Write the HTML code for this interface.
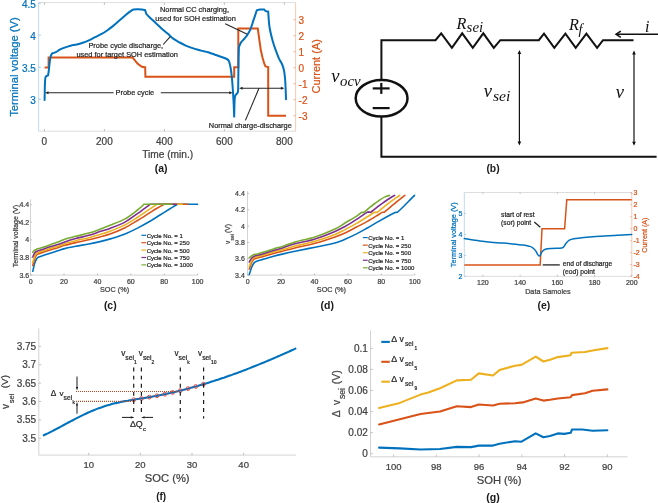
<!DOCTYPE html>
<html><head><meta charset="utf-8"><style>
html,body{margin:0;padding:0;background:#fff;}
body{width:658px;height:503px;overflow:hidden;font-family:"Liberation Sans",sans-serif;}
svg{display:block;will-change:transform;filter:blur(0.4px);}
</style></head><body>
<svg width="658" height="503" viewBox="0 0 658 503">
<rect width="658" height="503" fill="#fff"/>
<line x1="38.60" y1="2.60" x2="295.60" y2="2.60" stroke="#d4d4d4" stroke-width="0.8" />
<line x1="38.60" y1="131.20" x2="295.60" y2="131.20" stroke="#d4d4d4" stroke-width="0.8" />
<line x1="38.60" y1="2.60" x2="38.60" y2="131.20" stroke="#b0d0ec" stroke-width="0.8" />
<line x1="295.60" y1="2.60" x2="295.60" y2="131.20" stroke="#f3bba3" stroke-width="0.8" />
<line x1="44.40" y1="131.20" x2="44.40" y2="129.00" stroke="#a0a0a0" stroke-width="0.7" />
<line x1="44.40" y1="2.60" x2="44.40" y2="4.80" stroke="#a0a0a0" stroke-width="0.7" />
<text x="44.40" y="145.20" font-size="10" fill="#404040" text-anchor="middle" font-weight="normal" font-family="Liberation Sans" font-style="normal" stroke="#404040" stroke-width="0.22" >0</text>
<line x1="104.40" y1="131.20" x2="104.40" y2="129.00" stroke="#a0a0a0" stroke-width="0.7" />
<line x1="104.40" y1="2.60" x2="104.40" y2="4.80" stroke="#a0a0a0" stroke-width="0.7" />
<text x="104.40" y="145.20" font-size="10" fill="#404040" text-anchor="middle" font-weight="normal" font-family="Liberation Sans" font-style="normal" stroke="#404040" stroke-width="0.22" >200</text>
<line x1="164.40" y1="131.20" x2="164.40" y2="129.00" stroke="#a0a0a0" stroke-width="0.7" />
<line x1="164.40" y1="2.60" x2="164.40" y2="4.80" stroke="#a0a0a0" stroke-width="0.7" />
<text x="164.40" y="145.20" font-size="10" fill="#404040" text-anchor="middle" font-weight="normal" font-family="Liberation Sans" font-style="normal" stroke="#404040" stroke-width="0.22" >400</text>
<line x1="224.40" y1="131.20" x2="224.40" y2="129.00" stroke="#a0a0a0" stroke-width="0.7" />
<line x1="224.40" y1="2.60" x2="224.40" y2="4.80" stroke="#a0a0a0" stroke-width="0.7" />
<text x="224.40" y="145.20" font-size="10" fill="#404040" text-anchor="middle" font-weight="normal" font-family="Liberation Sans" font-style="normal" stroke="#404040" stroke-width="0.22" >600</text>
<line x1="284.40" y1="131.20" x2="284.40" y2="129.00" stroke="#a0a0a0" stroke-width="0.7" />
<line x1="284.40" y1="2.60" x2="284.40" y2="4.80" stroke="#a0a0a0" stroke-width="0.7" />
<text x="284.40" y="145.20" font-size="10" fill="#404040" text-anchor="middle" font-weight="normal" font-family="Liberation Sans" font-style="normal" stroke="#404040" stroke-width="0.22" >800</text>
<line x1="38.60" y1="3.20" x2="40.80" y2="3.20" stroke="#7fb2dc" stroke-width="0.7" />
<text x="35.80" y="7.80" font-size="10" fill="#0072BD" text-anchor="end" font-weight="normal" font-family="Liberation Sans" font-style="normal" stroke="#0072BD" stroke-width="0.22" >4.5</text>
<line x1="38.60" y1="35.20" x2="40.80" y2="35.20" stroke="#7fb2dc" stroke-width="0.7" />
<text x="35.80" y="39.80" font-size="10" fill="#0072BD" text-anchor="end" font-weight="normal" font-family="Liberation Sans" font-style="normal" stroke="#0072BD" stroke-width="0.22" >4</text>
<line x1="38.60" y1="67.30" x2="40.80" y2="67.30" stroke="#7fb2dc" stroke-width="0.7" />
<text x="35.80" y="71.90" font-size="10" fill="#0072BD" text-anchor="end" font-weight="normal" font-family="Liberation Sans" font-style="normal" stroke="#0072BD" stroke-width="0.22" >3.5</text>
<line x1="38.60" y1="99.20" x2="40.80" y2="99.20" stroke="#7fb2dc" stroke-width="0.7" />
<text x="35.80" y="103.80" font-size="10" fill="#0072BD" text-anchor="end" font-weight="normal" font-family="Liberation Sans" font-style="normal" stroke="#0072BD" stroke-width="0.22" >3</text>
<line x1="295.60" y1="115.70" x2="293.40" y2="115.70" stroke="#ec9a7a" stroke-width="0.7" />
<text x="298.60" y="120.00" font-size="10" fill="#D95319" text-anchor="start" font-weight="normal" font-family="Liberation Sans" font-style="normal" stroke="#D95319" stroke-width="0.22" >-3</text>
<line x1="295.60" y1="99.70" x2="293.40" y2="99.70" stroke="#ec9a7a" stroke-width="0.7" />
<text x="298.60" y="104.00" font-size="10" fill="#D95319" text-anchor="start" font-weight="normal" font-family="Liberation Sans" font-style="normal" stroke="#D95319" stroke-width="0.22" >-2</text>
<line x1="295.60" y1="83.70" x2="293.40" y2="83.70" stroke="#ec9a7a" stroke-width="0.7" />
<text x="298.60" y="88.00" font-size="10" fill="#D95319" text-anchor="start" font-weight="normal" font-family="Liberation Sans" font-style="normal" stroke="#D95319" stroke-width="0.22" >-1</text>
<line x1="295.60" y1="67.70" x2="293.40" y2="67.70" stroke="#ec9a7a" stroke-width="0.7" />
<text x="298.60" y="72.00" font-size="10" fill="#D95319" text-anchor="start" font-weight="normal" font-family="Liberation Sans" font-style="normal" stroke="#D95319" stroke-width="0.22" >0</text>
<line x1="295.60" y1="51.70" x2="293.40" y2="51.70" stroke="#ec9a7a" stroke-width="0.7" />
<text x="298.60" y="56.00" font-size="10" fill="#D95319" text-anchor="start" font-weight="normal" font-family="Liberation Sans" font-style="normal" stroke="#D95319" stroke-width="0.22" >1</text>
<line x1="295.60" y1="35.70" x2="293.40" y2="35.70" stroke="#ec9a7a" stroke-width="0.7" />
<text x="298.60" y="40.00" font-size="10" fill="#D95319" text-anchor="start" font-weight="normal" font-family="Liberation Sans" font-style="normal" stroke="#D95319" stroke-width="0.22" >2</text>
<line x1="295.60" y1="19.70" x2="293.40" y2="19.70" stroke="#ec9a7a" stroke-width="0.7" />
<text x="298.60" y="24.00" font-size="10" fill="#D95319" text-anchor="start" font-weight="normal" font-family="Liberation Sans" font-style="normal" stroke="#D95319" stroke-width="0.22" >3</text>
<text transform="translate(18.20,67.00) rotate(-90)" x="0" y="0" font-size="11.2" fill="#0072BD" stroke="#0072BD" stroke-width="0.22" text-anchor="middle" font-family="Liberation Sans" >Terminal voltage (V)</text>
<text transform="translate(320.10,66.30) rotate(-90)" x="0" y="0" font-size="11" fill="#D95319" stroke="#D95319" stroke-width="0.22" text-anchor="middle" font-family="Liberation Sans" >Current (A)</text>
<text x="167.70" y="158.00" font-size="10.2" fill="#404040" text-anchor="middle" font-weight="normal" font-family="Liberation Sans" font-style="normal" stroke="#404040" stroke-width="0.22" >Time (min.)</text>
<text x="161.20" y="171.80" font-size="10.5" fill="#1a1a1a" text-anchor="middle" font-weight="bold" font-family="Liberation Sans" font-style="normal"  >(a)</text>
<polyline points="44.6,67.5 48.6,67.5 48.6,57.6 132.7,57.6 134.3,59.6 137.5,63.6 141.4,66.6 145.2,67.4 145.4,76.8 234.2,76.8 234.2,67.3 238.3,67.3 238.3,28.6 257.8,28.6 259.3,39.5 260.8,50.0 262.5,57.5 264.2,63.5 265.5,66.4 268.2,67.1 268.2,115.7 286.0,115.7" fill="none" stroke="#D95319" stroke-width="2.0" stroke-linejoin="miter" stroke-linecap="butt" />
<path d="M44.60,100.10 C44.65,97.47 44.77,88.02 44.90,84.30 C45.03,80.58 45.17,79.15 45.40,77.80 C45.63,76.45 45.85,76.60 46.30,76.20 C46.75,75.80 47.80,75.53 48.10,75.40 C48.25,74.30 48.70,71.28 49.00,68.80 C49.30,66.32 49.58,62.68 49.90,60.50 C50.22,58.32 50.50,56.90 50.90,55.70 C51.30,54.50 52.07,53.70 52.30,53.30 C52.90,53.12 54.67,52.80 55.90,52.20 C57.13,51.60 58.25,50.47 59.70,49.70 C61.15,48.93 62.77,48.27 64.60,47.60 C66.43,46.93 68.68,46.22 70.70,45.70 C72.72,45.18 74.68,45.00 76.70,44.50 C78.72,44.00 80.77,43.40 82.80,42.70 C84.83,42.00 86.87,41.22 88.90,40.30 C90.93,39.38 92.97,38.22 95.00,37.20 C97.03,36.18 99.08,35.32 101.10,34.20 C103.12,33.08 105.08,31.88 107.10,30.50 C109.12,29.12 111.17,27.55 113.20,25.90 C115.23,24.25 117.27,22.37 119.30,20.60 C121.33,18.83 123.85,16.63 125.40,15.30 C126.95,13.97 127.35,13.53 128.60,12.60 C129.85,11.67 132.18,10.18 132.90,9.70 C133.62,9.63 135.68,9.32 137.20,9.30 C138.72,9.28 140.68,9.47 142.00,9.60 C143.32,9.73 144.58,10.02 145.10,10.10 C145.30,10.73 146.10,13.27 146.30,13.90 C146.80,14.42 147.78,15.53 149.30,17.00 C150.82,18.47 153.37,20.78 155.40,22.70 C157.43,24.62 159.47,26.68 161.50,28.50 C163.53,30.32 165.58,31.87 167.60,33.60 C169.62,35.33 171.58,37.42 173.60,38.90 C175.62,40.38 177.67,41.38 179.70,42.50 C181.73,43.62 183.77,44.70 185.80,45.60 C187.83,46.50 189.87,47.20 191.90,47.90 C193.93,48.60 195.98,49.23 198.00,49.80 C200.02,50.37 202.33,50.88 204.00,51.30 C205.67,51.72 206.02,51.68 208.00,52.30 C209.98,52.92 213.27,54.08 215.90,55.00 C218.53,55.92 221.82,57.03 223.80,57.80 C225.78,58.57 226.88,58.85 227.80,59.60 C228.72,60.35 228.83,60.93 229.30,62.30 C229.77,63.67 230.18,65.42 230.60,67.80 C231.02,70.18 231.45,73.28 231.80,76.60 C232.15,79.92 232.42,83.73 232.70,87.70 C232.98,91.67 233.25,95.58 233.50,100.40 C233.75,105.22 234.08,113.90 234.20,116.60 C234.28,113.63 234.43,102.43 234.70,98.80 C234.97,95.17 235.28,95.85 235.80,94.80 C236.32,93.75 237.47,92.88 237.80,92.50 C237.87,91.70 238.08,93.12 238.20,87.70 C238.32,82.28 238.38,66.75 238.50,60.00 C238.62,53.25 238.83,49.33 238.90,47.20 C239.23,46.43 240.03,43.97 240.90,42.60 C241.77,41.23 243.03,40.27 244.10,39.00 C245.17,37.73 246.25,36.60 247.30,35.00 C248.35,33.40 249.35,31.92 250.40,29.40 C251.45,26.88 252.53,23.08 253.60,19.90 C254.67,16.72 256.27,11.90 256.80,10.30 C257.32,10.17 258.67,9.63 259.90,9.50 C261.13,9.37 263.48,9.50 264.20,9.50 C264.47,9.77 265.13,10.77 265.80,11.10 C266.47,11.43 267.80,11.43 268.20,11.50 C268.42,14.08 268.75,22.08 269.50,27.00 C270.25,31.92 271.63,37.05 272.70,41.00 C273.77,44.95 274.85,47.77 275.90,50.70 C276.95,53.63 277.95,56.30 279.00,58.60 C280.05,60.90 281.37,62.52 282.20,64.50 C283.03,66.48 283.53,68.25 284.00,70.50 C284.47,72.75 284.73,75.08 285.00,78.00 C285.27,80.92 285.43,84.45 285.60,88.00 C285.77,91.55 285.93,97.42 286.00,99.30" fill="none" stroke="#0072BD" stroke-width="2.0" stroke-linejoin="round" stroke-linecap="round" />
<text x="125.80" y="47.60" font-size="7.4" fill="#262626" text-anchor="middle" font-weight="normal" font-family="Liberation Sans" font-style="normal" stroke="#262626" stroke-width="0.22" >Probe cycle discharge,</text>
<text x="127.20" y="56.70" font-size="7.4" fill="#262626" text-anchor="middle" font-weight="normal" font-family="Liberation Sans" font-style="normal" stroke="#262626" stroke-width="0.22" >used for target SOH estimation</text>
<text x="194.50" y="12.30" font-size="7.4" fill="#262626" text-anchor="middle" font-weight="normal" font-family="Liberation Sans" font-style="normal" stroke="#262626" stroke-width="0.22" >Normal CC charging,</text>
<text x="195.50" y="21.20" font-size="7.4" fill="#262626" text-anchor="middle" font-weight="normal" font-family="Liberation Sans" font-style="normal" stroke="#262626" stroke-width="0.22" >used for SOH estimation</text>
<text x="115.60" y="95.20" font-size="7.4" fill="#262626" text-anchor="start" font-weight="normal" font-family="Liberation Sans" font-style="normal" stroke="#262626" stroke-width="0.22" >Probe cycle</text>
<text x="208.80" y="127.50" font-size="7.4" fill="#262626" text-anchor="start" font-weight="normal" font-family="Liberation Sans" font-style="normal" stroke="#262626" stroke-width="0.22" >Normal charge-discharge</text>
<line x1="163.20" y1="44.50" x2="170.30" y2="36.60" stroke="#262626" stroke-width="1.1" />
<line x1="225.20" y1="23.80" x2="247.30" y2="34.20" stroke="#262626" stroke-width="1.1" />
<line x1="47.00" y1="92.80" x2="113.60" y2="92.80" stroke="#262626" stroke-width="1.1" />
<line x1="160.80" y1="92.80" x2="230.50" y2="92.80" stroke="#262626" stroke-width="1.1" />
<polygon points="45.00,92.80 48.50,91.30 48.50,94.30" fill="#262626"/>
<polygon points="232.70,92.80 229.20,94.30 229.20,91.30" fill="#262626"/>
<line x1="241.00" y1="88.30" x2="282.50" y2="88.30" stroke="#262626" stroke-width="1.1" />
<polygon points="239.10,88.30 242.60,86.80 242.60,89.80" fill="#262626"/>
<polygon points="284.40,88.30 280.90,89.80 280.90,86.80" fill="#262626"/>
<line x1="259.00" y1="88.30" x2="245.40" y2="120.40" stroke="#262626" stroke-width="1.1" />
<polyline points="381.4,79.8 381.4,40.2 435.5,40.2 441.2,33.3 451.9,47.9 462.2,33.3 472.8,47.9 483.3,33.3 493.8,47.9 500.3,40.2 538.8,40.2 544.0,33.7 554.3,47.9 565.4,33.7 575.7,47.9 586.4,33.7 597.1,47.9 603.0,40.2 633.5,40.2" fill="none" stroke="#111" stroke-width="2" stroke-linejoin="miter"/>
<polyline points="381.4,117.0 381.4,156.8 656.6,156.8" fill="none" stroke="#111" stroke-width="2" stroke-linejoin="miter"/>
<ellipse cx="381.6" cy="98.3" rx="25.9" ry="18.3" fill="none" stroke="#111" stroke-width="2.5"/>
<line x1="372.70" y1="88.40" x2="389.60" y2="88.40" stroke="#111" stroke-width="2.2" />
<line x1="381.30" y1="82.90" x2="381.30" y2="93.90" stroke="#111" stroke-width="2.2" />
<line x1="372.70" y1="108.10" x2="389.60" y2="108.10" stroke="#111" stroke-width="2.2" />
<line x1="616.00" y1="34.30" x2="658.00" y2="34.30" stroke="#111" stroke-width="1.6" />
<polyline points="620.8,31.2 616.0,34.3 620.8,37.4" fill="none" stroke="#111" stroke-width="1.5"/>
<line x1="519.40" y1="52.00" x2="519.40" y2="143.50" stroke="#111" stroke-width="1.2" />
<polygon points="519.40,50.00 521.20,54.00 517.60,54.00" fill="#111"/>
<polygon points="519.40,145.50 517.60,141.50 521.20,141.50" fill="#111"/>
<line x1="634.00" y1="52.60" x2="634.00" y2="143.80" stroke="#111" stroke-width="1.2" />
<polygon points="634.00,50.60 635.80,54.60 632.20,54.60" fill="#111"/>
<polygon points="634.00,145.80 632.20,141.80 635.80,141.80" fill="#111"/>
<text x="456.60" y="28.50" font-size="16.3" fill="#111" text-anchor="start" font-weight="normal" font-family="Liberation Serif" font-style="italic"  >R</text>
<text x="466.60" y="31.90" font-size="14.3" fill="#111" text-anchor="start" font-weight="normal" font-family="Liberation Serif" font-style="italic"  textLength="16.6" lengthAdjust="spacingAndGlyphs">sei</text>
<text x="568.90" y="30.40" font-size="16.3" fill="#111" text-anchor="start" font-weight="normal" font-family="Liberation Serif" font-style="italic"  >R</text>
<text x="578.60" y="33.60" font-size="14.3" fill="#111" text-anchor="start" font-weight="normal" font-family="Liberation Serif" font-style="italic"  >f</text>
<text x="645.00" y="32.40" font-size="16" fill="#111" text-anchor="start" font-weight="normal" font-family="Liberation Serif" font-style="italic"  >i</text>
<text x="331.30" y="82.10" font-size="18.5" fill="#111" text-anchor="start" font-weight="normal" font-family="Liberation Serif" font-style="italic"  >v</text>
<text x="340.00" y="85.60" font-size="14.6" fill="#111" text-anchor="start" font-weight="normal" font-family="Liberation Serif" font-style="italic"  textLength="20.6" lengthAdjust="spacingAndGlyphs">ocv</text>
<text x="483.80" y="97.40" font-size="18.5" fill="#111" text-anchor="start" font-weight="normal" font-family="Liberation Serif" font-style="italic"  >v</text>
<text x="493.00" y="100.90" font-size="14.6" fill="#111" text-anchor="start" font-weight="normal" font-family="Liberation Serif" font-style="italic"  textLength="17.4" lengthAdjust="spacingAndGlyphs">sei</text>
<text x="615.80" y="97.90" font-size="18.5" fill="#111" text-anchor="start" font-weight="normal" font-family="Liberation Serif" font-style="italic"  >v</text>
<text x="493.00" y="172.30" font-size="10.3" fill="#1a1a1a" text-anchor="middle" font-weight="bold" font-family="Liberation Sans" font-style="normal"  >(b)</text>
<line x1="30.50" y1="199.20" x2="30.50" y2="275.10" stroke="#c8c8c8" stroke-width="0.8" />
<line x1="30.50" y1="275.10" x2="197.80" y2="275.10" stroke="#c8c8c8" stroke-width="0.8" />
<line x1="30.50" y1="204.70" x2="32.20" y2="204.70" stroke="#a0a0a0" stroke-width="0.6" />
<text x="29.20" y="207.20" font-size="7" fill="#404040" text-anchor="end" font-weight="normal" font-family="Liberation Sans" font-style="normal" stroke="#404040" stroke-width="0.22" >4.4</text>
<line x1="30.50" y1="222.20" x2="32.20" y2="222.20" stroke="#a0a0a0" stroke-width="0.6" />
<text x="29.20" y="224.70" font-size="7" fill="#404040" text-anchor="end" font-weight="normal" font-family="Liberation Sans" font-style="normal" stroke="#404040" stroke-width="0.22" >4.2</text>
<line x1="30.50" y1="239.90" x2="32.20" y2="239.90" stroke="#a0a0a0" stroke-width="0.6" />
<text x="29.20" y="242.40" font-size="7" fill="#404040" text-anchor="end" font-weight="normal" font-family="Liberation Sans" font-style="normal" stroke="#404040" stroke-width="0.22" >4</text>
<line x1="30.50" y1="257.60" x2="32.20" y2="257.60" stroke="#a0a0a0" stroke-width="0.6" />
<text x="29.20" y="260.10" font-size="7" fill="#404040" text-anchor="end" font-weight="normal" font-family="Liberation Sans" font-style="normal" stroke="#404040" stroke-width="0.22" >3.8</text>
<line x1="30.50" y1="275.20" x2="32.20" y2="275.20" stroke="#a0a0a0" stroke-width="0.6" />
<text x="29.20" y="277.70" font-size="7" fill="#404040" text-anchor="end" font-weight="normal" font-family="Liberation Sans" font-style="normal" stroke="#404040" stroke-width="0.22" >3.6</text>
<line x1="30.60" y1="275.10" x2="30.60" y2="273.40" stroke="#a0a0a0" stroke-width="0.6" />
<text x="30.60" y="283.80" font-size="7" fill="#404040" text-anchor="middle" font-weight="normal" font-family="Liberation Sans" font-style="normal" stroke="#404040" stroke-width="0.22" >0</text>
<line x1="64.00" y1="275.10" x2="64.00" y2="273.40" stroke="#a0a0a0" stroke-width="0.6" />
<text x="64.00" y="283.80" font-size="7" fill="#404040" text-anchor="middle" font-weight="normal" font-family="Liberation Sans" font-style="normal" stroke="#404040" stroke-width="0.22" >20</text>
<line x1="97.40" y1="275.10" x2="97.40" y2="273.40" stroke="#a0a0a0" stroke-width="0.6" />
<text x="97.40" y="283.80" font-size="7" fill="#404040" text-anchor="middle" font-weight="normal" font-family="Liberation Sans" font-style="normal" stroke="#404040" stroke-width="0.22" >40</text>
<line x1="130.80" y1="275.10" x2="130.80" y2="273.40" stroke="#a0a0a0" stroke-width="0.6" />
<text x="130.80" y="283.80" font-size="7" fill="#404040" text-anchor="middle" font-weight="normal" font-family="Liberation Sans" font-style="normal" stroke="#404040" stroke-width="0.22" >60</text>
<line x1="164.20" y1="275.10" x2="164.20" y2="273.40" stroke="#a0a0a0" stroke-width="0.6" />
<text x="164.20" y="283.80" font-size="7" fill="#404040" text-anchor="middle" font-weight="normal" font-family="Liberation Sans" font-style="normal" stroke="#404040" stroke-width="0.22" >80</text>
<line x1="197.60" y1="275.10" x2="197.60" y2="273.40" stroke="#a0a0a0" stroke-width="0.6" />
<text x="197.60" y="283.80" font-size="7" fill="#404040" text-anchor="middle" font-weight="normal" font-family="Liberation Sans" font-style="normal" stroke="#404040" stroke-width="0.22" >100</text>
<text transform="translate(17.50,236.00) rotate(-90)" x="0" y="0" font-size="7" fill="#404040" stroke="#404040" stroke-width="0.22" text-anchor="middle" font-family="Liberation Sans" >Terminal voltage (V)</text>
<text x="114.50" y="292.40" font-size="7.3" fill="#404040" text-anchor="middle" font-weight="normal" font-family="Liberation Sans" font-style="normal" stroke="#404040" stroke-width="0.22" >SOC (%)</text>
<text x="110.30" y="309.00" font-size="10.5" fill="#1a1a1a" text-anchor="middle" font-weight="bold" font-family="Liberation Sans" font-style="normal"  >(c)</text>
<path d="M32.80,271.30 C33.08,270.03 33.92,265.67 34.50,263.70 C35.08,261.73 35.67,260.57 36.30,259.50 C36.93,258.43 37.03,258.00 38.30,257.30 C39.57,256.60 41.80,256.03 43.90,255.30 C46.00,254.57 48.58,253.65 50.90,252.90 C53.22,252.15 55.48,251.52 57.80,250.80 C60.12,250.08 61.82,249.35 64.80,248.60 C67.78,247.85 71.70,247.07 75.70,246.30 C79.70,245.53 84.75,244.78 88.80,244.00 C92.85,243.22 96.47,242.43 100.00,241.60 C103.53,240.77 107.50,239.68 110.00,239.00 C112.50,238.32 112.50,238.33 115.00,237.50 C117.50,236.67 121.25,235.57 125.00,234.00 C128.75,232.43 133.33,230.22 137.50,228.10 C141.67,225.98 146.25,223.48 150.00,221.30 C153.75,219.12 157.00,216.88 160.00,215.00 C163.00,213.12 165.10,211.80 168.00,210.00 C170.90,208.20 175.83,205.17 177.40,204.20 C180.77,204.20 194.23,204.20 197.60,204.20" fill="none" stroke="#0072BD" stroke-width="1.6" stroke-linejoin="round" stroke-linecap="round" />
<path d="M32.80,265.40 C33.08,264.42 33.92,261.18 34.50,259.50 C35.08,257.82 35.67,256.23 36.30,255.30 C36.93,254.37 37.03,254.45 38.30,253.90 C39.57,253.35 41.80,252.70 43.90,252.00 C46.00,251.30 48.58,250.42 50.90,249.70 C53.22,248.98 55.48,248.43 57.80,247.70 C60.12,246.97 61.82,246.15 64.80,245.30 C67.78,244.45 71.70,243.52 75.70,242.60 C79.70,241.68 84.75,240.73 88.80,239.80 C92.85,238.87 96.47,237.95 100.00,237.00 C103.53,236.05 105.83,235.65 110.00,234.10 C114.17,232.55 120.42,229.97 125.00,227.70 C129.58,225.43 133.33,223.02 137.50,220.50 C141.67,217.98 146.75,214.63 150.00,212.60 C153.25,210.57 154.63,209.70 157.00,208.30 C159.37,206.90 163.00,204.88 164.20,204.20 C168.15,204.20 183.95,204.20 187.90,204.20" fill="none" stroke="#D95319" stroke-width="1.6" stroke-linejoin="round" stroke-linecap="round" />
<path d="M32.80,262.30 C33.08,261.37 33.92,258.15 34.50,256.70 C35.08,255.25 35.67,254.30 36.30,253.60 C36.93,252.90 37.03,253.03 38.30,252.50 C39.57,251.97 41.80,251.10 43.90,250.40 C46.00,249.70 48.58,248.98 50.90,248.30 C53.22,247.62 55.48,247.07 57.80,246.30 C60.12,245.53 61.82,244.62 64.80,243.70 C67.78,242.78 71.70,241.80 75.70,240.80 C79.70,239.80 84.75,238.73 88.80,237.70 C92.85,236.67 96.47,235.67 100.00,234.60 C103.53,233.53 105.83,232.92 110.00,231.30 C114.17,229.68 120.42,227.23 125.00,224.90 C129.58,222.57 134.17,219.40 137.50,217.30 C140.83,215.20 142.83,213.75 145.00,212.30 C147.17,210.85 148.52,209.95 150.50,208.60 C152.48,207.25 155.83,204.93 156.90,204.20 C161.15,204.20 178.15,204.20 182.40,204.20" fill="none" stroke="#EDB120" stroke-width="1.6" stroke-linejoin="round" stroke-linecap="round" />
<path d="M32.80,257.00 C33.08,256.37 33.92,254.12 34.50,253.20 C35.08,252.28 35.67,251.90 36.30,251.50 C36.93,251.10 37.03,251.23 38.30,250.80 C39.57,250.37 41.80,249.60 43.90,248.90 C46.00,248.20 48.58,247.33 50.90,246.60 C53.22,245.87 55.48,245.28 57.80,244.50 C60.12,243.72 61.82,242.88 64.80,241.90 C67.78,240.92 71.70,239.70 75.70,238.60 C79.70,237.50 84.75,236.47 88.80,235.30 C92.85,234.13 96.47,232.75 100.00,231.60 C103.53,230.45 105.83,229.98 110.00,228.40 C114.17,226.82 120.42,224.57 125.00,222.10 C129.58,219.63 134.33,215.80 137.50,213.60 C140.67,211.40 141.83,210.47 144.00,208.90 C146.17,207.33 149.42,204.98 150.50,204.20 C154.83,204.20 172.17,204.20 176.50,204.20" fill="none" stroke="#7E2F8E" stroke-width="1.6" stroke-linejoin="round" stroke-linecap="round" />
<path d="M32.80,252.20 C33.08,251.90 33.92,250.87 34.50,250.40 C35.08,249.93 35.67,249.68 36.30,249.40 C36.93,249.12 37.03,249.10 38.30,248.70 C39.57,248.30 41.80,247.70 43.90,247.00 C46.00,246.30 48.58,245.32 50.90,244.50 C53.22,243.68 55.48,242.98 57.80,242.10 C60.12,241.22 61.82,240.17 64.80,239.20 C67.78,238.23 71.70,237.32 75.70,236.30 C79.70,235.28 84.75,234.28 88.80,233.10 C92.85,231.92 96.47,230.50 100.00,229.20 C103.53,227.90 105.83,227.02 110.00,225.30 C114.17,223.58 120.42,221.45 125.00,218.90 C129.58,216.35 134.32,212.45 137.50,210.00 C140.68,207.55 143.00,205.17 144.10,204.20 C148.73,204.20 167.27,204.20 171.90,204.20" fill="none" stroke="#77AC30" stroke-width="1.6" stroke-linejoin="round" stroke-linecap="round" />
<line x1="141.40" y1="235.30" x2="146.20" y2="235.30" stroke="#0072BD" stroke-width="1.2" />
<text x="146.70" y="237.70" font-size="6" fill="#262626" text-anchor="start" font-weight="normal" font-family="Liberation Sans" font-style="normal" stroke="#262626" stroke-width="0.22" >Cycle No. = 1</text>
<line x1="141.40" y1="242.70" x2="146.20" y2="242.70" stroke="#D95319" stroke-width="1.2" />
<text x="146.70" y="245.10" font-size="6" fill="#262626" text-anchor="start" font-weight="normal" font-family="Liberation Sans" font-style="normal" stroke="#262626" stroke-width="0.22" >Cycle No. = 250</text>
<line x1="141.40" y1="250.10" x2="146.20" y2="250.10" stroke="#EDB120" stroke-width="1.2" />
<text x="146.70" y="252.50" font-size="6" fill="#262626" text-anchor="start" font-weight="normal" font-family="Liberation Sans" font-style="normal" stroke="#262626" stroke-width="0.22" >Cycle No. = 500</text>
<line x1="141.40" y1="257.50" x2="146.20" y2="257.50" stroke="#7E2F8E" stroke-width="1.2" />
<text x="146.70" y="259.90" font-size="6" fill="#262626" text-anchor="start" font-weight="normal" font-family="Liberation Sans" font-style="normal" stroke="#262626" stroke-width="0.22" >Cycle No. = 750</text>
<line x1="141.40" y1="264.90" x2="146.20" y2="264.90" stroke="#77AC30" stroke-width="1.2" />
<text x="146.70" y="267.30" font-size="6" fill="#262626" text-anchor="start" font-weight="normal" font-family="Liberation Sans" font-style="normal" stroke="#262626" stroke-width="0.22" >Cycle No. = 1000</text>
<line x1="247.50" y1="191.30" x2="247.50" y2="275.10" stroke="#c8c8c8" stroke-width="0.8" />
<line x1="247.50" y1="275.10" x2="414.80" y2="275.10" stroke="#c8c8c8" stroke-width="0.8" />
<line x1="247.50" y1="275.20" x2="249.20" y2="275.20" stroke="#a0a0a0" stroke-width="0.6" />
<text x="244.80" y="277.70" font-size="7" fill="#404040" text-anchor="end" font-weight="normal" font-family="Liberation Sans" font-style="normal" stroke="#404040" stroke-width="0.22" >3.4</text>
<line x1="247.50" y1="258.84" x2="249.20" y2="258.84" stroke="#a0a0a0" stroke-width="0.6" />
<text x="244.80" y="261.34" font-size="7" fill="#404040" text-anchor="end" font-weight="normal" font-family="Liberation Sans" font-style="normal" stroke="#404040" stroke-width="0.22" >3.6</text>
<line x1="247.50" y1="242.48" x2="249.20" y2="242.48" stroke="#a0a0a0" stroke-width="0.6" />
<text x="244.80" y="244.98" font-size="7" fill="#404040" text-anchor="end" font-weight="normal" font-family="Liberation Sans" font-style="normal" stroke="#404040" stroke-width="0.22" >3.8</text>
<line x1="247.50" y1="226.12" x2="249.20" y2="226.12" stroke="#a0a0a0" stroke-width="0.6" />
<text x="244.80" y="228.62" font-size="7" fill="#404040" text-anchor="end" font-weight="normal" font-family="Liberation Sans" font-style="normal" stroke="#404040" stroke-width="0.22" >4</text>
<line x1="247.50" y1="209.76" x2="249.20" y2="209.76" stroke="#a0a0a0" stroke-width="0.6" />
<text x="244.80" y="212.26" font-size="7" fill="#404040" text-anchor="end" font-weight="normal" font-family="Liberation Sans" font-style="normal" stroke="#404040" stroke-width="0.22" >4.2</text>
<line x1="247.50" y1="193.40" x2="249.20" y2="193.40" stroke="#a0a0a0" stroke-width="0.6" />
<text x="244.80" y="195.90" font-size="7" fill="#404040" text-anchor="end" font-weight="normal" font-family="Liberation Sans" font-style="normal" stroke="#404040" stroke-width="0.22" >4.4</text>
<line x1="247.60" y1="275.10" x2="247.60" y2="273.40" stroke="#a0a0a0" stroke-width="0.6" />
<text x="247.60" y="283.80" font-size="7" fill="#404040" text-anchor="middle" font-weight="normal" font-family="Liberation Sans" font-style="normal" stroke="#404040" stroke-width="0.22" >0</text>
<line x1="281.04" y1="275.10" x2="281.04" y2="273.40" stroke="#a0a0a0" stroke-width="0.6" />
<text x="281.04" y="283.80" font-size="7" fill="#404040" text-anchor="middle" font-weight="normal" font-family="Liberation Sans" font-style="normal" stroke="#404040" stroke-width="0.22" >20</text>
<line x1="314.48" y1="275.10" x2="314.48" y2="273.40" stroke="#a0a0a0" stroke-width="0.6" />
<text x="314.48" y="283.80" font-size="7" fill="#404040" text-anchor="middle" font-weight="normal" font-family="Liberation Sans" font-style="normal" stroke="#404040" stroke-width="0.22" >40</text>
<line x1="347.92" y1="275.10" x2="347.92" y2="273.40" stroke="#a0a0a0" stroke-width="0.6" />
<text x="347.92" y="283.80" font-size="7" fill="#404040" text-anchor="middle" font-weight="normal" font-family="Liberation Sans" font-style="normal" stroke="#404040" stroke-width="0.22" >60</text>
<line x1="381.36" y1="275.10" x2="381.36" y2="273.40" stroke="#a0a0a0" stroke-width="0.6" />
<text x="381.36" y="283.80" font-size="7" fill="#404040" text-anchor="middle" font-weight="normal" font-family="Liberation Sans" font-style="normal" stroke="#404040" stroke-width="0.22" >80</text>
<line x1="414.80" y1="275.10" x2="414.80" y2="273.40" stroke="#a0a0a0" stroke-width="0.6" />
<text x="414.80" y="283.80" font-size="7" fill="#404040" text-anchor="middle" font-weight="normal" font-family="Liberation Sans" font-style="normal" stroke="#404040" stroke-width="0.22" >100</text>
<text transform="translate(229.60,244.00) rotate(-90)" x="0" y="0" font-size="6.4" fill="#404040" stroke="#404040" stroke-width="0.22" font-weight="normal" font-family="Liberation Sans" >v</text>
<text transform="translate(233.70,240.40) rotate(-90)" x="0" y="0" font-size="4.8" fill="#404040" stroke="#404040" stroke-width="0.22" font-weight="normal" font-family="Liberation Sans" >sei</text>
<text transform="translate(229.60,233.10) rotate(-90)" x="0" y="0" font-size="6.9" fill="#404040" stroke="#404040" stroke-width="0.22" font-weight="normal" font-family="Liberation Sans" >(V)</text>
<text x="331.40" y="292.20" font-size="7.3" fill="#404040" text-anchor="middle" font-weight="normal" font-family="Liberation Sans" font-style="normal" stroke="#404040" stroke-width="0.22" >SOC (%)</text>
<text x="327.20" y="309.00" font-size="10.5" fill="#1a1a1a" text-anchor="middle" font-weight="bold" font-family="Liberation Sans" font-style="normal"  >(d)</text>
<path d="M249.30,274.40 C249.70,273.20 250.90,269.12 251.70,267.20 C252.50,265.28 253.15,263.93 254.10,262.90 C255.05,261.87 255.73,261.63 257.40,261.00 C259.07,260.37 261.40,259.90 264.10,259.10 C266.80,258.30 270.42,257.07 273.60,256.20 C276.78,255.33 279.63,254.72 283.20,253.90 C286.77,253.08 289.70,252.42 295.00,251.30 C300.30,250.18 308.33,248.58 315.00,247.20 C321.67,245.82 330.00,244.32 335.00,243.00 C340.00,241.68 341.40,240.82 345.00,239.30 C348.60,237.78 352.80,235.83 356.60,233.90 C360.40,231.97 364.03,229.83 367.80,227.70 C371.57,225.57 375.40,223.25 379.20,221.10 C383.00,218.95 387.93,216.23 390.60,214.80 C393.27,213.37 394.43,212.88 395.20,212.50 C395.57,212.47 397.03,212.33 397.40,212.30 C398.17,211.58 400.28,209.68 402.00,208.00 C403.72,206.32 405.62,204.30 407.70,202.20 C409.78,200.10 413.37,196.53 414.50,195.40" fill="none" stroke="#0072BD" stroke-width="1.6" stroke-linejoin="round" stroke-linecap="round" />
<path d="M249.30,269.10 C249.70,267.98 250.90,264.07 251.70,262.40 C252.50,260.73 253.15,259.82 254.10,259.10 C255.05,258.38 255.73,258.58 257.40,258.10 C259.07,257.62 261.40,256.98 264.10,256.20 C266.80,255.42 270.42,254.27 273.60,253.40 C276.78,252.53 279.63,251.90 283.20,251.00 C286.77,250.10 289.70,249.28 295.00,248.00 C300.30,246.72 308.33,245.15 315.00,243.30 C321.67,241.45 330.00,238.63 335.00,236.90 C340.00,235.17 341.40,234.55 345.00,232.90 C348.60,231.25 352.80,228.97 356.60,227.00 C360.40,225.03 364.03,223.23 367.80,221.10 C371.57,218.97 376.73,215.68 379.20,214.20 C381.67,212.72 382.03,212.53 382.60,212.20 C382.88,212.20 384.02,212.20 384.30,212.20 C385.35,211.30 388.60,208.47 390.60,206.80 C392.60,205.13 393.93,204.10 396.30,202.20 C398.67,200.30 403.38,196.53 404.80,195.40" fill="none" stroke="#D95319" stroke-width="1.6" stroke-linejoin="round" stroke-linecap="round" />
<path d="M249.30,266.30 C249.70,265.33 250.90,261.93 251.70,260.50 C252.50,259.07 253.15,258.33 254.10,257.70 C255.05,257.07 255.73,257.18 257.40,256.70 C259.07,256.22 261.40,255.60 264.10,254.80 C266.80,254.00 270.42,252.77 273.60,251.90 C276.78,251.03 279.63,250.57 283.20,249.60 C286.77,248.63 289.70,247.48 295.00,246.10 C300.30,244.72 308.33,243.23 315.00,241.30 C321.67,239.37 330.00,236.45 335.00,234.50 C340.00,232.55 341.40,231.45 345.00,229.60 C348.60,227.75 352.80,225.58 356.60,223.40 C360.40,221.22 364.80,218.37 367.80,216.50 C370.80,214.63 373.47,212.92 374.60,212.20 C374.98,212.25 376.52,212.45 376.90,212.50 C377.28,212.22 377.87,211.85 379.20,210.80 C380.53,209.75 383.00,207.72 384.90,206.20 C386.80,204.68 388.70,203.12 390.60,201.70 C392.50,200.28 394.78,198.75 396.30,197.70 C397.82,196.65 399.13,195.78 399.70,195.40" fill="none" stroke="#EDB120" stroke-width="1.6" stroke-linejoin="round" stroke-linecap="round" />
<path d="M249.30,262.00 C249.70,261.35 250.90,259.07 251.70,258.10 C252.50,257.13 253.15,256.67 254.10,256.20 C255.05,255.73 255.73,255.77 257.40,255.30 C259.07,254.83 261.40,254.20 264.10,253.40 C266.80,252.60 270.42,251.45 273.60,250.50 C276.78,249.55 279.63,248.82 283.20,247.70 C286.77,246.58 289.70,245.25 295.00,243.80 C300.30,242.35 308.33,241.07 315.00,239.00 C321.67,236.93 330.00,233.48 335.00,231.40 C340.00,229.32 341.40,228.50 345.00,226.50 C348.60,224.50 353.57,221.35 356.60,219.40 C359.63,217.45 361.32,216.05 363.20,214.80 C365.08,213.55 367.12,212.38 367.90,211.90 C368.37,211.97 370.23,212.23 370.70,212.30 C371.17,211.95 372.08,211.30 373.50,210.20 C374.92,209.10 377.30,207.15 379.20,205.70 C381.10,204.25 383.00,202.83 384.90,201.50 C386.80,200.17 388.98,198.72 390.60,197.70 C392.22,196.68 393.93,195.78 394.60,195.40" fill="none" stroke="#7E2F8E" stroke-width="1.6" stroke-linejoin="round" stroke-linecap="round" />
<path d="M249.30,257.70 C249.70,257.38 250.90,256.32 251.70,255.80 C252.50,255.28 253.15,254.92 254.10,254.60 C255.05,254.28 255.73,254.35 257.40,253.90 C259.07,253.45 261.40,252.73 264.10,251.90 C266.80,251.07 270.42,249.85 273.60,248.90 C276.78,247.95 279.63,247.37 283.20,246.20 C286.77,245.03 289.70,243.45 295.00,241.90 C300.30,240.35 308.33,239.05 315.00,236.90 C321.67,234.75 330.00,231.32 335.00,229.00 C340.00,226.68 341.40,225.15 345.00,223.00 C348.60,220.85 353.83,217.88 356.60,216.10 C359.37,214.32 360.77,212.93 361.60,212.30 C361.93,212.32 363.27,212.38 363.60,212.40 C364.30,211.85 366.15,210.42 367.80,209.10 C369.45,207.78 371.60,205.97 373.50,204.50 C375.40,203.03 377.30,201.57 379.20,200.30 C381.10,199.03 383.18,197.72 384.90,196.90 C386.62,196.08 388.73,195.65 389.50,195.40" fill="none" stroke="#77AC30" stroke-width="1.6" stroke-linejoin="round" stroke-linecap="round" />
<line x1="362.90" y1="237.60" x2="367.70" y2="237.60" stroke="#0072BD" stroke-width="1.2" />
<text x="368.20" y="240.00" font-size="6" fill="#262626" text-anchor="start" font-weight="normal" font-family="Liberation Sans" font-style="normal" stroke="#262626" stroke-width="0.22" >Cycle No. = 1</text>
<line x1="362.90" y1="245.15" x2="367.70" y2="245.15" stroke="#D95319" stroke-width="1.2" />
<text x="368.20" y="247.55" font-size="6" fill="#262626" text-anchor="start" font-weight="normal" font-family="Liberation Sans" font-style="normal" stroke="#262626" stroke-width="0.22" >Cycle No. = 250</text>
<line x1="362.90" y1="252.70" x2="367.70" y2="252.70" stroke="#EDB120" stroke-width="1.2" />
<text x="368.20" y="255.10" font-size="6" fill="#262626" text-anchor="start" font-weight="normal" font-family="Liberation Sans" font-style="normal" stroke="#262626" stroke-width="0.22" >Cycle No. = 500</text>
<line x1="362.90" y1="260.25" x2="367.70" y2="260.25" stroke="#7E2F8E" stroke-width="1.2" />
<text x="368.20" y="262.65" font-size="6" fill="#262626" text-anchor="start" font-weight="normal" font-family="Liberation Sans" font-style="normal" stroke="#262626" stroke-width="0.22" >Cycle No. = 750</text>
<line x1="362.90" y1="267.80" x2="367.70" y2="267.80" stroke="#77AC30" stroke-width="1.2" />
<text x="368.20" y="270.20" font-size="6" fill="#262626" text-anchor="start" font-weight="normal" font-family="Liberation Sans" font-style="normal" stroke="#262626" stroke-width="0.22" >Cycle No. = 1000</text>
<line x1="464.30" y1="192.50" x2="631.80" y2="192.50" stroke="#d4d4d4" stroke-width="0.8" />
<line x1="464.30" y1="276.40" x2="631.80" y2="276.40" stroke="#d4d4d4" stroke-width="0.8" />
<line x1="464.30" y1="192.50" x2="464.30" y2="276.40" stroke="#b0d0ec" stroke-width="0.8" />
<line x1="631.80" y1="192.50" x2="631.80" y2="276.40" stroke="#f3bba3" stroke-width="0.8" />
<line x1="464.30" y1="276.40" x2="466.00" y2="276.40" stroke="#7fb2dc" stroke-width="0.6" />
<text x="462.40" y="279.00" font-size="7" fill="#0072BD" text-anchor="end" font-weight="normal" font-family="Liberation Sans" font-style="normal" stroke="#0072BD" stroke-width="0.22" >2</text>
<line x1="464.30" y1="255.45" x2="466.00" y2="255.45" stroke="#7fb2dc" stroke-width="0.6" />
<text x="462.40" y="258.05" font-size="7" fill="#0072BD" text-anchor="end" font-weight="normal" font-family="Liberation Sans" font-style="normal" stroke="#0072BD" stroke-width="0.22" >3</text>
<line x1="464.30" y1="234.50" x2="466.00" y2="234.50" stroke="#7fb2dc" stroke-width="0.6" />
<text x="462.40" y="237.10" font-size="7" fill="#0072BD" text-anchor="end" font-weight="normal" font-family="Liberation Sans" font-style="normal" stroke="#0072BD" stroke-width="0.22" >4</text>
<line x1="464.30" y1="213.55" x2="466.00" y2="213.55" stroke="#7fb2dc" stroke-width="0.6" />
<text x="462.40" y="216.15" font-size="7" fill="#0072BD" text-anchor="end" font-weight="normal" font-family="Liberation Sans" font-style="normal" stroke="#0072BD" stroke-width="0.22" >5</text>
<line x1="631.80" y1="276.48" x2="630.10" y2="276.48" stroke="#ec9a7a" stroke-width="0.6" />
<text x="633.40" y="279.08" font-size="7" fill="#D95319" text-anchor="start" font-weight="normal" font-family="Liberation Sans" font-style="normal" stroke="#D95319" stroke-width="0.22" >-4</text>
<line x1="631.80" y1="264.51" x2="630.10" y2="264.51" stroke="#ec9a7a" stroke-width="0.6" />
<text x="633.40" y="267.11" font-size="7" fill="#D95319" text-anchor="start" font-weight="normal" font-family="Liberation Sans" font-style="normal" stroke="#D95319" stroke-width="0.22" >-3</text>
<line x1="631.80" y1="252.54" x2="630.10" y2="252.54" stroke="#ec9a7a" stroke-width="0.6" />
<text x="633.40" y="255.14" font-size="7" fill="#D95319" text-anchor="start" font-weight="normal" font-family="Liberation Sans" font-style="normal" stroke="#D95319" stroke-width="0.22" >-2</text>
<line x1="631.80" y1="240.57" x2="630.10" y2="240.57" stroke="#ec9a7a" stroke-width="0.6" />
<text x="633.40" y="243.17" font-size="7" fill="#D95319" text-anchor="start" font-weight="normal" font-family="Liberation Sans" font-style="normal" stroke="#D95319" stroke-width="0.22" >-1</text>
<line x1="631.80" y1="228.60" x2="630.10" y2="228.60" stroke="#ec9a7a" stroke-width="0.6" />
<text x="633.40" y="231.20" font-size="7" fill="#D95319" text-anchor="start" font-weight="normal" font-family="Liberation Sans" font-style="normal" stroke="#D95319" stroke-width="0.22" >0</text>
<line x1="631.80" y1="216.63" x2="630.10" y2="216.63" stroke="#ec9a7a" stroke-width="0.6" />
<text x="633.40" y="219.23" font-size="7" fill="#D95319" text-anchor="start" font-weight="normal" font-family="Liberation Sans" font-style="normal" stroke="#D95319" stroke-width="0.22" >1</text>
<line x1="631.80" y1="204.66" x2="630.10" y2="204.66" stroke="#ec9a7a" stroke-width="0.6" />
<text x="633.40" y="207.26" font-size="7" fill="#D95319" text-anchor="start" font-weight="normal" font-family="Liberation Sans" font-style="normal" stroke="#D95319" stroke-width="0.22" >2</text>
<line x1="631.80" y1="192.69" x2="630.10" y2="192.69" stroke="#ec9a7a" stroke-width="0.6" />
<text x="633.40" y="195.29" font-size="7" fill="#D95319" text-anchor="start" font-weight="normal" font-family="Liberation Sans" font-style="normal" stroke="#D95319" stroke-width="0.22" >3</text>
<line x1="482.90" y1="276.40" x2="482.90" y2="274.70" stroke="#a0a0a0" stroke-width="0.6" />
<line x1="482.90" y1="192.50" x2="482.90" y2="194.20" stroke="#a0a0a0" stroke-width="0.6" />
<text x="482.90" y="285.40" font-size="7" fill="#404040" text-anchor="middle" font-weight="normal" font-family="Liberation Sans" font-style="normal" stroke="#404040" stroke-width="0.22" >120</text>
<line x1="520.12" y1="276.40" x2="520.12" y2="274.70" stroke="#a0a0a0" stroke-width="0.6" />
<line x1="520.12" y1="192.50" x2="520.12" y2="194.20" stroke="#a0a0a0" stroke-width="0.6" />
<text x="520.12" y="285.40" font-size="7" fill="#404040" text-anchor="middle" font-weight="normal" font-family="Liberation Sans" font-style="normal" stroke="#404040" stroke-width="0.22" >140</text>
<line x1="557.34" y1="276.40" x2="557.34" y2="274.70" stroke="#a0a0a0" stroke-width="0.6" />
<line x1="557.34" y1="192.50" x2="557.34" y2="194.20" stroke="#a0a0a0" stroke-width="0.6" />
<text x="557.34" y="285.40" font-size="7" fill="#404040" text-anchor="middle" font-weight="normal" font-family="Liberation Sans" font-style="normal" stroke="#404040" stroke-width="0.22" >160</text>
<line x1="594.56" y1="276.40" x2="594.56" y2="274.70" stroke="#a0a0a0" stroke-width="0.6" />
<line x1="594.56" y1="192.50" x2="594.56" y2="194.20" stroke="#a0a0a0" stroke-width="0.6" />
<text x="594.56" y="285.40" font-size="7" fill="#404040" text-anchor="middle" font-weight="normal" font-family="Liberation Sans" font-style="normal" stroke="#404040" stroke-width="0.22" >180</text>
<line x1="631.78" y1="276.40" x2="631.78" y2="274.70" stroke="#a0a0a0" stroke-width="0.6" />
<line x1="631.78" y1="192.50" x2="631.78" y2="194.20" stroke="#a0a0a0" stroke-width="0.6" />
<text x="631.78" y="285.40" font-size="7" fill="#404040" text-anchor="middle" font-weight="normal" font-family="Liberation Sans" font-style="normal" stroke="#404040" stroke-width="0.22" >200</text>
<text transform="translate(456.20,234.80) rotate(-90)" x="0" y="0" font-size="7.3" fill="#0072BD" stroke="#0072BD" stroke-width="0.22" text-anchor="middle" font-family="Liberation Sans" >Terminal voltage (V)</text>
<text transform="translate(647.20,235.20) rotate(-90)" x="0" y="0" font-size="7.1" fill="#D95319" stroke="#D95319" stroke-width="0.22" text-anchor="middle" font-family="Liberation Sans" >Current (A)</text>
<text x="547.90" y="294.40" font-size="7.25" fill="#404040" text-anchor="middle" font-weight="normal" font-family="Liberation Sans" font-style="normal" stroke="#404040" stroke-width="0.22" >Data Samoles</text>
<text x="543.90" y="309.10" font-size="10.5" fill="#1a1a1a" text-anchor="middle" font-weight="bold" font-family="Liberation Sans" font-style="normal"  >(e)</text>
<polyline points="464.3,264.9 540.2,264.9 542.0,228.8 564.6,228.8 566.8,199.7 631.7,199.7" fill="none" stroke="#D95319" stroke-width="1.5" stroke-linejoin="miter" stroke-linecap="butt" />
<path d="M464.30,238.60 C466.85,239.00 475.22,240.40 479.60,241.00 C483.98,241.60 486.95,241.87 490.60,242.20 C494.25,242.53 497.87,242.72 501.50,243.00 C505.13,243.28 508.75,243.55 512.40,243.90 C516.05,244.25 520.63,244.72 523.40,245.10 C526.17,245.48 527.55,245.83 529.00,246.20 C530.45,246.57 531.03,246.60 532.10,247.30 C533.17,248.00 534.48,249.23 535.40,250.40 C536.32,251.57 536.97,253.35 537.60,254.30 C538.23,255.25 538.70,256.05 539.20,256.10 C539.70,256.15 540.13,255.33 540.60,254.60 C541.07,253.87 541.22,252.58 542.00,251.70 C542.78,250.82 543.65,249.83 545.30,249.30 C546.95,248.77 549.17,248.70 551.90,248.50 C554.63,248.30 559.70,248.42 561.70,248.10 C563.70,247.78 563.17,247.42 563.90,246.60 C564.63,245.78 565.18,244.27 566.10,243.20 C567.02,242.13 568.12,240.93 569.40,240.20 C570.68,239.47 571.37,239.27 573.80,238.80 C576.23,238.33 580.37,237.80 584.00,237.40 C587.63,237.00 590.02,236.75 595.60,236.40 C601.18,236.05 611.48,235.62 617.50,235.30 C623.52,234.98 629.33,234.63 631.70,234.50" fill="none" stroke="#0072BD" stroke-width="1.5" stroke-linejoin="round" stroke-linecap="round" />
<text x="501.10" y="216.90" font-size="6.7" fill="#262626" text-anchor="start" font-weight="normal" font-family="Liberation Sans" font-style="normal" stroke="#262626" stroke-width="0.22" >start of rest</text>
<text x="501.10" y="225.40" font-size="6.7" fill="#262626" text-anchor="start" font-weight="normal" font-family="Liberation Sans" font-style="normal" stroke="#262626" stroke-width="0.22" >(sor) point</text>
<text x="562.80" y="265.50" font-size="6.7" fill="#262626" text-anchor="start" font-weight="normal" font-family="Liberation Sans" font-style="normal" stroke="#262626" stroke-width="0.22" >end of discharge</text>
<text x="562.80" y="274.30" font-size="6.7" fill="#262626" text-anchor="start" font-weight="normal" font-family="Liberation Sans" font-style="normal" stroke="#262626" stroke-width="0.22" >(eod) point</text>
<line x1="534.30" y1="222.00" x2="540.30" y2="227.30" stroke="#262626" stroke-width="1.3" />
<line x1="559.80" y1="264.90" x2="542.70" y2="264.90" stroke="#262626" stroke-width="1.3" />
<line x1="38.80" y1="328.30" x2="38.80" y2="455.10" stroke="#c8c8c8" stroke-width="0.8" />
<line x1="38.80" y1="455.10" x2="296.00" y2="455.10" stroke="#c8c8c8" stroke-width="0.8" />
<line x1="38.80" y1="438.20" x2="41.20" y2="438.20" stroke="#a0a0a0" stroke-width="0.6" />
<text x="36.20" y="441.80" font-size="10" fill="#404040" text-anchor="end" font-weight="normal" font-family="Liberation Sans" font-style="normal" stroke="#404040" stroke-width="0.22" >3.5</text>
<line x1="38.80" y1="419.84" x2="41.20" y2="419.84" stroke="#a0a0a0" stroke-width="0.6" />
<text x="36.20" y="423.44" font-size="10" fill="#404040" text-anchor="end" font-weight="normal" font-family="Liberation Sans" font-style="normal" stroke="#404040" stroke-width="0.22" >3.55</text>
<line x1="38.80" y1="401.48" x2="41.20" y2="401.48" stroke="#a0a0a0" stroke-width="0.6" />
<text x="36.20" y="405.08" font-size="10" fill="#404040" text-anchor="end" font-weight="normal" font-family="Liberation Sans" font-style="normal" stroke="#404040" stroke-width="0.22" >3.6</text>
<line x1="38.80" y1="383.12" x2="41.20" y2="383.12" stroke="#a0a0a0" stroke-width="0.6" />
<text x="36.20" y="386.72" font-size="10" fill="#404040" text-anchor="end" font-weight="normal" font-family="Liberation Sans" font-style="normal" stroke="#404040" stroke-width="0.22" >3.65</text>
<line x1="38.80" y1="364.76" x2="41.20" y2="364.76" stroke="#a0a0a0" stroke-width="0.6" />
<text x="36.20" y="368.36" font-size="10" fill="#404040" text-anchor="end" font-weight="normal" font-family="Liberation Sans" font-style="normal" stroke="#404040" stroke-width="0.22" >3.7</text>
<line x1="38.80" y1="346.40" x2="41.20" y2="346.40" stroke="#a0a0a0" stroke-width="0.6" />
<text x="36.20" y="350.00" font-size="10" fill="#404040" text-anchor="end" font-weight="normal" font-family="Liberation Sans" font-style="normal" stroke="#404040" stroke-width="0.22" >3.75</text>
<line x1="88.70" y1="455.10" x2="88.70" y2="452.70" stroke="#a0a0a0" stroke-width="0.6" />
<text x="88.70" y="467.90" font-size="9.5" fill="#404040" text-anchor="middle" font-weight="normal" font-family="Liberation Sans" font-style="normal" stroke="#404040" stroke-width="0.22" >10</text>
<line x1="140.35" y1="455.10" x2="140.35" y2="452.70" stroke="#a0a0a0" stroke-width="0.6" />
<text x="140.35" y="467.90" font-size="9.5" fill="#404040" text-anchor="middle" font-weight="normal" font-family="Liberation Sans" font-style="normal" stroke="#404040" stroke-width="0.22" >20</text>
<line x1="192.00" y1="455.10" x2="192.00" y2="452.70" stroke="#a0a0a0" stroke-width="0.6" />
<text x="192.00" y="467.90" font-size="9.5" fill="#404040" text-anchor="middle" font-weight="normal" font-family="Liberation Sans" font-style="normal" stroke="#404040" stroke-width="0.22" >30</text>
<line x1="243.65" y1="455.10" x2="243.65" y2="452.70" stroke="#a0a0a0" stroke-width="0.6" />
<text x="243.65" y="467.90" font-size="9.5" fill="#404040" text-anchor="middle" font-weight="normal" font-family="Liberation Sans" font-style="normal" stroke="#404040" stroke-width="0.22" >40</text>
<text transform="translate(8.60,408.90) rotate(-90)" x="0" y="0" font-size="10" fill="#404040" stroke="#404040" stroke-width="0.22" font-weight="normal" font-family="Liberation Sans" >v</text>
<text transform="translate(14.00,403.20) rotate(-90)" x="0" y="0" font-size="7.5" fill="#404040" stroke="#404040" stroke-width="0.22" font-weight="normal" font-family="Liberation Sans" >sei</text>
<text transform="translate(8.40,388.20) rotate(-90)" x="0" y="0" font-size="9.9" fill="#404040" stroke="#404040" stroke-width="0.22" font-weight="normal" font-family="Liberation Sans" >(V)</text>
<text x="167.20" y="481.80" font-size="11.2" fill="#404040" text-anchor="middle" font-weight="normal" font-family="Liberation Sans" font-style="normal" stroke="#404040" stroke-width="0.22" >SOC (%)</text>
<text x="161.20" y="500.10" font-size="10" fill="#1a1a1a" text-anchor="middle" font-weight="bold" font-family="Liberation Sans" font-style="normal"  >(f)</text>
<polyline points="43.8,435.3 45.8,434.3 47.8,433.4 49.8,432.4 51.8,431.4 53.8,430.3 55.8,429.3 57.8,428.2 59.8,427.2 61.8,426.1 63.8,425.0 65.8,423.9 67.8,422.8 69.8,421.8 71.8,420.7 73.8,419.7 75.8,418.6 77.8,417.6 79.8,416.6 81.8,415.6 83.8,414.6 85.8,413.7 87.8,412.8 89.8,411.9 91.8,411.0 93.8,410.2 95.8,409.4 97.8,408.6 99.8,407.9 101.8,407.2 103.8,406.5 105.8,405.8 107.8,405.2 109.8,404.7 111.8,404.1 113.8,403.6 115.8,403.1 117.8,402.7 119.8,402.2 121.8,401.8 123.8,401.4 125.8,401.0 127.8,400.7 129.8,400.3 131.8,400.0 133.8,399.7 135.8,399.3 137.8,399.0 139.8,398.7 141.8,398.4 143.8,398.1 145.8,397.7 147.8,397.4 149.8,397.1 151.8,396.7 153.8,396.3 155.8,396.0 157.8,395.6 159.8,395.2 161.8,394.8 163.8,394.4 165.8,394.0 167.8,393.5 169.8,393.1 171.8,392.6 173.8,392.2 175.8,391.7 177.8,391.2 179.8,390.7 181.8,390.2 183.8,389.7 185.8,389.2 187.8,388.7 189.8,388.1 191.8,387.6 193.8,387.0 195.8,386.5 197.8,385.9 199.8,385.3 201.8,384.7 203.8,384.1 205.8,383.5 207.8,382.9 209.8,382.3 211.8,381.6 213.8,381.0 215.8,380.3 217.8,379.7 219.8,379.0 221.8,378.3 223.8,377.7 225.8,377.0 227.8,376.3 229.8,375.6 231.8,374.9 233.8,374.1 235.8,373.4 237.8,372.7 239.8,371.9 241.8,371.2 243.8,370.4 245.8,369.7 247.8,368.9 249.8,368.1 251.8,367.3 253.8,366.5 255.8,365.7 257.8,364.9 259.8,364.1 261.8,363.3 263.8,362.5 265.8,361.6 267.8,360.8 269.8,360.0 271.8,359.1 273.8,358.2 275.8,357.4 277.8,356.5 279.8,355.6 281.8,354.8 283.8,353.9 285.8,353.0 287.8,352.1 289.8,351.2 291.8,350.3 293.8,349.4 295.4,348.6" fill="none" stroke="#0072BD" stroke-width="2.1" stroke-linejoin="round" stroke-linecap="round" />
<line x1="76.00" y1="391.50" x2="178.00" y2="391.50" stroke="#b8461e" stroke-width="1.15" stroke-dasharray="1 1"/>
<line x1="76.00" y1="401.30" x2="132.00" y2="401.30" stroke="#b8461e" stroke-width="1.15" stroke-dasharray="1 1"/>
<circle cx="133.70" cy="399.67" r="1.9" fill="none" stroke="#e23b3b" stroke-width="0.9"/>
<circle cx="141.40" cy="398.44" r="1.9" fill="none" stroke="#e23b3b" stroke-width="0.9"/>
<circle cx="149.30" cy="397.15" r="1.9" fill="none" stroke="#e23b3b" stroke-width="0.9"/>
<circle cx="156.90" cy="395.77" r="1.9" fill="none" stroke="#e23b3b" stroke-width="0.9"/>
<circle cx="164.80" cy="394.18" r="1.9" fill="none" stroke="#e23b3b" stroke-width="0.9"/>
<circle cx="172.60" cy="392.45" r="1.9" fill="none" stroke="#e23b3b" stroke-width="0.9"/>
<circle cx="180.30" cy="390.60" r="1.9" fill="none" stroke="#e23b3b" stroke-width="0.9"/>
<circle cx="188.10" cy="388.59" r="1.9" fill="none" stroke="#e23b3b" stroke-width="0.9"/>
<circle cx="195.70" cy="386.49" r="1.9" fill="none" stroke="#e23b3b" stroke-width="0.9"/>
<circle cx="203.50" cy="384.21" r="1.9" fill="none" stroke="#e23b3b" stroke-width="0.9"/>
<line x1="133.70" y1="367.60" x2="133.70" y2="412.80" stroke="#1a1a1a" stroke-width="1.2" stroke-dasharray="3.9 4.2"/>
<line x1="141.40" y1="367.60" x2="141.40" y2="412.80" stroke="#1a1a1a" stroke-width="1.2" stroke-dasharray="3.9 4.2"/>
<line x1="180.30" y1="367.60" x2="180.30" y2="418.60" stroke="#1a1a1a" stroke-width="1.2" stroke-dasharray="3.9 4.2"/>
<line x1="203.60" y1="367.60" x2="203.60" y2="418.60" stroke="#1a1a1a" stroke-width="1.2" stroke-dasharray="3.9 4.2"/>
<text x="121.20" y="355.60" font-size="8.2" fill="#262626" text-anchor="start" font-weight="normal" font-family="Liberation Sans" font-style="normal" stroke="#262626" stroke-width="0.22" >v</text>
<text x="125.30" y="359.80" font-size="6.8" fill="#262626" text-anchor="start" font-weight="normal" font-family="Liberation Sans" font-style="normal" stroke="#262626" stroke-width="0.22" >sei</text>
<text x="134.00" y="363.90" font-size="5" fill="#262626" text-anchor="start" font-weight="normal" font-family="Liberation Sans" font-style="normal" stroke="#262626" stroke-width="0.22" >1</text>
<text x="138.80" y="355.60" font-size="8.2" fill="#262626" text-anchor="start" font-weight="normal" font-family="Liberation Sans" font-style="normal" stroke="#262626" stroke-width="0.22" >v</text>
<text x="142.90" y="359.80" font-size="6.8" fill="#262626" text-anchor="start" font-weight="normal" font-family="Liberation Sans" font-style="normal" stroke="#262626" stroke-width="0.22" >sei</text>
<text x="151.60" y="363.90" font-size="5" fill="#262626" text-anchor="start" font-weight="normal" font-family="Liberation Sans" font-style="normal" stroke="#262626" stroke-width="0.22" >2</text>
<text x="174.40" y="355.60" font-size="8.2" fill="#262626" text-anchor="start" font-weight="normal" font-family="Liberation Sans" font-style="normal" stroke="#262626" stroke-width="0.22" >v</text>
<text x="178.50" y="359.80" font-size="6.8" fill="#262626" text-anchor="start" font-weight="normal" font-family="Liberation Sans" font-style="normal" stroke="#262626" stroke-width="0.22" >sei</text>
<text x="187.20" y="363.90" font-size="5" fill="#262626" text-anchor="start" font-weight="normal" font-family="Liberation Sans" font-style="normal" stroke="#262626" stroke-width="0.22" >k</text>
<text x="198.10" y="355.60" font-size="8.2" fill="#262626" text-anchor="start" font-weight="normal" font-family="Liberation Sans" font-style="normal" stroke="#262626" stroke-width="0.22" >v</text>
<text x="202.20" y="359.80" font-size="6.8" fill="#262626" text-anchor="start" font-weight="normal" font-family="Liberation Sans" font-style="normal" stroke="#262626" stroke-width="0.22" >sei</text>
<text x="210.90" y="363.90" font-size="5" fill="#262626" text-anchor="start" font-weight="normal" font-family="Liberation Sans" font-style="normal" stroke="#262626" stroke-width="0.22" >10</text>
<line x1="77.00" y1="376.50" x2="77.00" y2="387.50" stroke="#1a1a1a" stroke-width="1.0" />
<polygon points="77.00,390.60 75.80,387.10 78.20,387.10" fill="#1a1a1a"/>
<line x1="77.00" y1="413.70" x2="77.00" y2="405.00" stroke="#1a1a1a" stroke-width="1.0" />
<polygon points="77.00,402.10 78.20,405.60 75.80,405.60" fill="#1a1a1a"/>
<text x="50.80" y="395.60" font-size="8.2" fill="#262626" text-anchor="start" font-weight="normal" font-family="Liberation Sans" font-style="normal" stroke="#262626" stroke-width="0.22" >Δ</text>
<text x="59.60" y="395.60" font-size="8" fill="#262626" text-anchor="start" font-weight="normal" font-family="Liberation Sans" font-style="normal" stroke="#262626" stroke-width="0.22" >v</text>
<text x="63.60" y="399.80" font-size="6.7" fill="#262626" text-anchor="start" font-weight="normal" font-family="Liberation Sans" font-style="normal" stroke="#262626" stroke-width="0.22" >sei</text>
<text x="72.60" y="403.80" font-size="4.8" fill="#262626" text-anchor="start" font-weight="normal" font-family="Liberation Sans" font-style="normal" stroke="#262626" stroke-width="0.22" >k</text>
<line x1="122.00" y1="417.40" x2="131.00" y2="417.40" stroke="#1a1a1a" stroke-width="1.0" />
<polygon points="134.40,417.40 130.80,418.60 130.80,416.20" fill="#1a1a1a"/>
<line x1="153.00" y1="417.40" x2="144.40" y2="417.40" stroke="#1a1a1a" stroke-width="1.0" />
<polygon points="141.10,417.40 144.70,416.20 144.70,418.60" fill="#1a1a1a"/>
<text x="129.90" y="426.60" font-size="8.9" fill="#262626" text-anchor="start" font-weight="normal" font-family="Liberation Sans" font-style="normal" stroke="#262626" stroke-width="0.22" >ΔQ</text>
<text x="143.00" y="430.70" font-size="6.2" fill="#262626" text-anchor="start" font-weight="normal" font-family="Liberation Sans" font-style="normal" stroke="#262626" stroke-width="0.22" >c</text>
<line x1="370.50" y1="330.30" x2="370.50" y2="456.80" stroke="#c8c8c8" stroke-width="0.8" />
<line x1="370.50" y1="456.80" x2="627.50" y2="456.80" stroke="#c8c8c8" stroke-width="0.8" />
<line x1="370.50" y1="453.70" x2="372.90" y2="453.70" stroke="#a0a0a0" stroke-width="0.6" />
<text x="367.80" y="457.30" font-size="10" fill="#404040" text-anchor="end" font-weight="normal" font-family="Liberation Sans" font-style="normal" stroke="#404040" stroke-width="0.22" >0</text>
<line x1="370.50" y1="432.64" x2="372.90" y2="432.64" stroke="#a0a0a0" stroke-width="0.6" />
<text x="367.80" y="436.24" font-size="10" fill="#404040" text-anchor="end" font-weight="normal" font-family="Liberation Sans" font-style="normal" stroke="#404040" stroke-width="0.22" >0.02</text>
<line x1="370.50" y1="411.58" x2="372.90" y2="411.58" stroke="#a0a0a0" stroke-width="0.6" />
<text x="367.80" y="415.18" font-size="10" fill="#404040" text-anchor="end" font-weight="normal" font-family="Liberation Sans" font-style="normal" stroke="#404040" stroke-width="0.22" >0.04</text>
<line x1="370.50" y1="390.52" x2="372.90" y2="390.52" stroke="#a0a0a0" stroke-width="0.6" />
<text x="367.80" y="394.12" font-size="10" fill="#404040" text-anchor="end" font-weight="normal" font-family="Liberation Sans" font-style="normal" stroke="#404040" stroke-width="0.22" >0.06</text>
<line x1="370.50" y1="369.46" x2="372.90" y2="369.46" stroke="#a0a0a0" stroke-width="0.6" />
<text x="367.80" y="373.06" font-size="10" fill="#404040" text-anchor="end" font-weight="normal" font-family="Liberation Sans" font-style="normal" stroke="#404040" stroke-width="0.22" >0.08</text>
<line x1="370.50" y1="348.40" x2="372.90" y2="348.40" stroke="#a0a0a0" stroke-width="0.6" />
<text x="367.80" y="352.00" font-size="10" fill="#404040" text-anchor="end" font-weight="normal" font-family="Liberation Sans" font-style="normal" stroke="#404040" stroke-width="0.22" >0.1</text>
<line x1="393.60" y1="456.80" x2="393.60" y2="454.40" stroke="#a0a0a0" stroke-width="0.6" />
<text x="393.60" y="470.00" font-size="9.5" fill="#404040" text-anchor="middle" font-weight="normal" font-family="Liberation Sans" font-style="normal" stroke="#404040" stroke-width="0.22" >100</text>
<line x1="436.34" y1="456.80" x2="436.34" y2="454.40" stroke="#a0a0a0" stroke-width="0.6" />
<text x="436.34" y="470.00" font-size="9.5" fill="#404040" text-anchor="middle" font-weight="normal" font-family="Liberation Sans" font-style="normal" stroke="#404040" stroke-width="0.22" >98</text>
<line x1="479.08" y1="456.80" x2="479.08" y2="454.40" stroke="#a0a0a0" stroke-width="0.6" />
<text x="479.08" y="470.00" font-size="9.5" fill="#404040" text-anchor="middle" font-weight="normal" font-family="Liberation Sans" font-style="normal" stroke="#404040" stroke-width="0.22" >96</text>
<line x1="521.82" y1="456.80" x2="521.82" y2="454.40" stroke="#a0a0a0" stroke-width="0.6" />
<text x="521.82" y="470.00" font-size="9.5" fill="#404040" text-anchor="middle" font-weight="normal" font-family="Liberation Sans" font-style="normal" stroke="#404040" stroke-width="0.22" >94</text>
<line x1="564.56" y1="456.80" x2="564.56" y2="454.40" stroke="#a0a0a0" stroke-width="0.6" />
<text x="564.56" y="470.00" font-size="9.5" fill="#404040" text-anchor="middle" font-weight="normal" font-family="Liberation Sans" font-style="normal" stroke="#404040" stroke-width="0.22" >92</text>
<line x1="607.30" y1="456.80" x2="607.30" y2="454.40" stroke="#a0a0a0" stroke-width="0.6" />
<text x="607.30" y="470.00" font-size="9.5" fill="#404040" text-anchor="middle" font-weight="normal" font-family="Liberation Sans" font-style="normal" stroke="#404040" stroke-width="0.22" >90</text>
<text transform="translate(340.40,417.30) rotate(-90)" x="0" y="0" font-size="10.6" fill="#404040" stroke="#404040" stroke-width="0.22" font-weight="normal" font-family="Liberation Sans" >Δ</text>
<text transform="translate(340.20,404.90) rotate(-90)" x="0" y="0" font-size="10.2" fill="#404040" stroke="#404040" stroke-width="0.22" font-weight="normal" font-family="Liberation Sans" >v</text>
<text transform="translate(344.90,399.10) rotate(-90)" x="0" y="0" font-size="8.6" fill="#404040" stroke="#404040" stroke-width="0.22" font-weight="normal" font-family="Liberation Sans" >sei</text>
<text transform="translate(340.00,384.30) rotate(-90)" x="0" y="0" font-size="10.6" fill="#404040" stroke="#404040" stroke-width="0.22" font-weight="normal" font-family="Liberation Sans" >(V)</text>
<text x="499.10" y="483.50" font-size="11.2" fill="#404040" text-anchor="middle" font-weight="normal" font-family="Liberation Sans" font-style="normal" stroke="#404040" stroke-width="0.22" >SOH (%)</text>
<text x="493.00" y="500.90" font-size="10.6" fill="#1a1a1a" text-anchor="middle" font-weight="bold" font-family="Liberation Sans" font-style="normal"  >(g)</text>
<polyline points="379.1,447.6 399.8,448.4 420.5,449.5 440.0,449.0 456.8,446.9 471.0,447.1 478.8,445.6 493.0,445.6 499.5,443.8 515.0,441.2 521.5,441.7 535.7,433.4 543.4,437.3 550.0,436.0 557.8,433.4 564.2,433.9 570.7,432.8 572.0,429.5 582.3,429.5 592.6,430.8 607.4,430.3" fill="none" stroke="#0072BD" stroke-width="2.1" stroke-linejoin="round" stroke-linecap="round" />
<polyline points="379.1,424.4 399.8,419.2 420.5,414.0 440.0,411.5 456.8,406.3 471.0,407.1 478.8,404.5 493.0,405.5 499.5,403.7 515.0,403.2 522.8,402.4 535.7,398.5 543.4,400.6 550.0,399.8 557.8,398.5 570.7,397.2 572.0,395.1 584.9,393.3 592.6,390.7 607.4,389.4" fill="none" stroke="#D95319" stroke-width="2.1" stroke-linejoin="round" stroke-linecap="round" />
<polyline points="379.1,408.1 399.8,402.9 420.5,394.6 428.3,392.6 440.0,388.2 456.8,380.4 471.0,379.7 478.8,373.4 493.0,375.5 499.5,370.1 515.0,365.7 521.5,364.9 535.7,356.6 543.4,361.5 550.0,359.7 557.8,357.1 570.7,355.3 571.4,352.7 584.9,352.0 593.9,350.2 607.4,348.1" fill="none" stroke="#EDB120" stroke-width="2.1" stroke-linejoin="round" stroke-linecap="round" />
<line x1="381.30" y1="341.90" x2="389.80" y2="341.90" stroke="#0072BD" stroke-width="2.1" />
<text x="391.20" y="341.90" font-size="8.8" fill="#262626" text-anchor="start" font-weight="normal" font-family="Liberation Sans" font-style="normal" stroke="#262626" stroke-width="0.22" >Δ</text>
<text x="399.60" y="341.90" font-size="8.6" fill="#262626" text-anchor="start" font-weight="normal" font-family="Liberation Sans" font-style="normal" stroke="#262626" stroke-width="0.22" >v</text>
<text x="405.00" y="346.10" font-size="6.6" fill="#262626" text-anchor="start" font-weight="normal" font-family="Liberation Sans" font-style="normal" stroke="#262626" stroke-width="0.22" >sei</text>
<text x="414.60" y="350.40" font-size="4.8" fill="#262626" text-anchor="start" font-weight="normal" font-family="Liberation Sans" font-style="normal" stroke="#262626" stroke-width="0.22" >1</text>
<line x1="381.30" y1="361.80" x2="389.80" y2="361.80" stroke="#D95319" stroke-width="2.1" />
<text x="391.20" y="361.80" font-size="8.8" fill="#262626" text-anchor="start" font-weight="normal" font-family="Liberation Sans" font-style="normal" stroke="#262626" stroke-width="0.22" >Δ</text>
<text x="399.60" y="361.80" font-size="8.6" fill="#262626" text-anchor="start" font-weight="normal" font-family="Liberation Sans" font-style="normal" stroke="#262626" stroke-width="0.22" >v</text>
<text x="405.00" y="366.00" font-size="6.6" fill="#262626" text-anchor="start" font-weight="normal" font-family="Liberation Sans" font-style="normal" stroke="#262626" stroke-width="0.22" >sei</text>
<text x="414.60" y="370.30" font-size="4.8" fill="#262626" text-anchor="start" font-weight="normal" font-family="Liberation Sans" font-style="normal" stroke="#262626" stroke-width="0.22" >5</text>
<line x1="381.30" y1="381.70" x2="389.80" y2="381.70" stroke="#EDB120" stroke-width="2.1" />
<text x="391.20" y="381.70" font-size="8.8" fill="#262626" text-anchor="start" font-weight="normal" font-family="Liberation Sans" font-style="normal" stroke="#262626" stroke-width="0.22" >Δ</text>
<text x="399.60" y="381.70" font-size="8.6" fill="#262626" text-anchor="start" font-weight="normal" font-family="Liberation Sans" font-style="normal" stroke="#262626" stroke-width="0.22" >v</text>
<text x="405.00" y="385.90" font-size="6.6" fill="#262626" text-anchor="start" font-weight="normal" font-family="Liberation Sans" font-style="normal" stroke="#262626" stroke-width="0.22" >sei</text>
<text x="414.60" y="390.20" font-size="4.8" fill="#262626" text-anchor="start" font-weight="normal" font-family="Liberation Sans" font-style="normal" stroke="#262626" stroke-width="0.22" >9</text>
</svg>
</body></html>
